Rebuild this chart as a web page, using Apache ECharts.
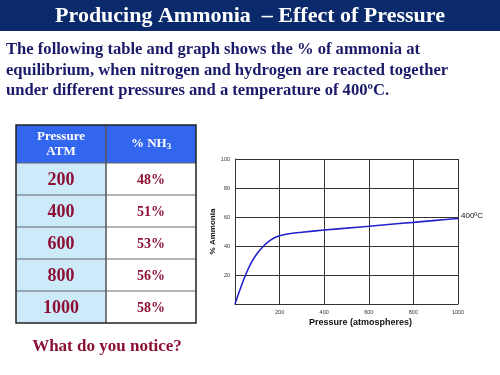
<!DOCTYPE html>
<html><head><meta charset="utf-8">
<script src="https://cdn.jsdelivr.net/npm/echarts@6/dist/echarts.min.js"></script>
<style>html,body{margin:0;padding:0;background:#fff}#c{width:500px;height:375px}</style>
</head><body><div id="c"></div>
<script>
var titleText = 'Producing Ammonia  \u2013 Effect of Pressure';
var bodyLines = [
  'The following table and graph shows the % of ammonia at',
  'equilibrium, when nitrogen and hydrogen are reacted together',
  'under different pressures and a temperature of 400\u00baC.'
];
var tableHeaders = ['Pressure\nATM', '% NH{sub|3}'];
var tablePressures = ['200', '400', '600', '800', '1000'];
var tablePercents = ['48%', '51%', '53%', '56%', '58%'];
var questionText = 'What do you notice?';

var curvePressure = [0, 25, 50, 75, 100, 125, 150, 175, 200, 250, 300, 400, 500, 600, 700, 800, 900, 1000];
var curvePercent  = [0, 11, 21, 29, 35, 39.5, 43, 45.5, 47, 48.6, 49.5, 51, 52.3, 53.6, 55, 56.3, 57.7, 59];
var seriesLabel = '400\u00baC';
var xAxisTitle = 'Pressure (atmospheres)';
var yAxisTitle = '% Ammonia';

var serif = '"Liberation Serif", "Times New Roman", serif';
var sans = '"Liberation Sans", Arial, sans-serif';
var navy = '#1a1a6a';
var red = '#8b1034';

var graphics = [];
graphics.push({type:'rect', shape:{x:0,y:0,width:500,height:31}, style:{fill:'#0b2a6c'}});
graphics.push({type:'text', x:250, y:16, style:{text:titleText, fill:'#fff', font:'bold 22px '+serif, align:'center', verticalAlign:'middle'}});
bodyLines.forEach(function(t,i){
  graphics.push({type:'text', x:6, y:50 + i*20.5, style:{text:t, fill:navy, font:'bold 16.6px '+serif, align:'left', verticalAlign:'middle'}});
});
// table
var tx0 = 16, tx1 = 106, tx2 = 196, ty0 = 125, th = 38, rh = 32;
graphics.push({type:'rect', shape:{x:tx0,y:ty0,width:tx2-tx0,height:th}, style:{fill:'#3366ee'}});
tablePressures.forEach(function(p,i){
  var y = ty0 + th + i*rh;
  graphics.push({type:'rect', shape:{x:tx0,y:y,width:tx1-tx0,height:rh}, style:{fill:'#cdeafb'}});
  graphics.push({type:'rect', shape:{x:tx1,y:y,width:tx2-tx1,height:rh}, style:{fill:'#ffffff'}});
  graphics.push({type:'text', x:(tx0+tx1)/2, y:y+rh/2+1, style:{text:p, fill:red, font:'bold 18px '+serif, align:'center', verticalAlign:'middle'}});
  graphics.push({type:'text', x:(tx1+tx2)/2, y:y+rh/2+1, style:{text:tablePercents[i], fill:red, font:'bold 14px '+serif, align:'center', verticalAlign:'middle'}});
  graphics.push({type:'line', shape:{x1:tx0,y1:y,x2:tx2,y2:y}, style:{stroke:'#666', lineWidth:1}});
});
graphics.push({type:'text', x:(tx0+tx1)/2, y:ty0+th/2, style:{text:tableHeaders[0], fill:'#fff', font:'bold 13px '+serif, align:'center', verticalAlign:'middle', lineHeight:15}});
graphics.push({type:'text', x:(tx1+tx2)/2, y:ty0+th/2, style:{rich:{sub:{fontSize:9, verticalAlign:'bottom', padding:[6,0,0,0], fill:'#fff', fontWeight:'bold', fontFamily:serif}}, text:tableHeaders[1], fill:'#fff', font:'bold 13px '+serif, align:'center', verticalAlign:'middle'}});
var tyEnd = ty0 + th + tablePressures.length*rh;
graphics.push({type:'line', shape:{x1:tx1,y1:ty0,x2:tx1,y2:tyEnd}, style:{stroke:'#555', lineWidth:1.5}});
graphics.push({type:'rect', shape:{x:tx0,y:ty0,width:tx2-tx0,height:tyEnd-ty0}, style:{fill:'none', stroke:'#222', lineWidth:1.5}});
graphics.push({type:'text', x:107, y:347, style:{text:questionText, fill:red, font:'bold 17px '+serif, align:'center', verticalAlign:'middle'}});

var chart = echarts.init(document.getElementById('c'));
chart.setOption({
  animation:false,
  backgroundColor:'#fff',
  grid:{left:235, right:42, top:159, bottom:71},
  xAxis:{type:'value', min:0, max:1000, interval:200,
    name:xAxisTitle, nameLocation:'middle', nameGap:14,
    nameTextStyle:{fontFamily:sans, fontWeight:'bold', fontSize:9, color:'#111', padding:[0,0,0,28]},
    axisLine:{lineStyle:{color:'#333', width:1}}, axisTick:{show:false},
    axisLabel:{fontSize:5.5, color:'#333', fontFamily:sans, margin:5, formatter:function(v){return v===0?'':v;}},
    splitLine:{show:true, lineStyle:{color:'#333', width:1}}},
  yAxis:{type:'value', min:0, max:100, interval:20,
    name:yAxisTitle, nameLocation:'middle', nameGap:18, nameRotate:90,
    nameTextStyle:{fontFamily:sans, fontWeight:'bold', fontSize:8, color:'#111'},
    axisLine:{show:true, lineStyle:{color:'#333', width:1}}, axisTick:{show:false},
    axisLabel:{fontSize:5.5, color:'#333', fontFamily:sans, margin:5, formatter:function(v){return v===0?'':v;}},
    splitLine:{show:true, lineStyle:{color:'#333', width:1}}},
  series:[{type:'line', smooth:0.4, showSymbol:false, symbol:'none',
    data:curvePressure.map(function(x,i){return [x, curvePercent[i]];}),
    lineStyle:{color:'#2222cc', width:1.6},
    endLabel:{show:true, formatter:seriesLabel, fontSize:8, fontFamily:sans, color:'#111', distance:3, offset:[0,-3]}}],
  graphic:graphics
});
</script></body></html>
